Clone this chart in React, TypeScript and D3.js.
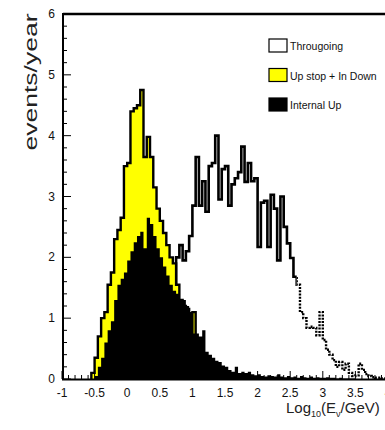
import React from 'react';
import * as d3 from 'd3';

// histogram bins: width 0.05 in log10(E/GeV), values in events/year
const binWidth = 0.05;

// through-going muons (open histogram)
const thruStart = 0.75;
const thruValues = [
    2.0, 2.2, 1.95, 2.1, 2.35, 2.85, 3.65, 2.85, 3.25, 2.75,
    3.5, 3.55, 4.0, 2.95, 3.45, 3.5, 2.85, 3.2, 3.3, 3.4,
    3.82, 3.24, 3.55, 3.25, 3.3, 2.17, 2.9, 2.93, 2.17, 3.03,
    2.8, 1.95, 3.0, 2.5, 2.23, 1.99, 1.68, 1.55, 1.1, 1.0,
    0.84, 0.86, 0.84, 0.72, 1.1, 0.64, 0.48, 0.4, 0.31, 0.2,
    0.28, 0.15, 0.25, 0.1, 0.05, 0.06, 0.25, 0.15, 0.08, 0.05,
    0.03, 0.02, 0.02, 0.01
];
// where the tail of the through-going histogram turns dotted
const thruDottedFrom = 2.6;

// up stop + in down (yellow)
const stopStart = -0.55;
const stopValues = [
    0.1, 0.35, 0.7, 1.0, 1.1, 1.55, 1.75, 2.3, 2.45, 2.65,
    3.5, 3.55, 4.4, 4.45, 4.5, 4.75, 3.65, 3.98, 3.65, 3.15,
    2.8, 2.6, 2.4, 2.2, 2.0, 1.9, 1.55, 1.3, 1.2, 1.15,
    0.75, 1.1, 0.35, 0.1
];

// internal up (black)
const inStart = -0.5;
const inValues = [
    0.05, 0.2, 0.35, 0.6, 0.8, 0.95, 1.3, 1.55, 1.65, 1.75,
    1.95, 2.1, 2.25, 2.35, 2.42, 2.15, 2.65, 2.55, 2.35, 2.15,
    2.0, 1.85, 1.7, 1.55, 1.45, 1.4, 1.3, 1.3, 1.2, 1.1,
    0.75, 0.75, 0.7, 0.8, 0.45, 0.4, 0.35, 0.3, 0.28, 0.22,
    0.2, 0.15, 0.12, 0.2, 0.1, 0.12, 0.1, 0.12, 0.08, 0.06,
    0.08, 0.05, 0.04, 0.06, 0.05, 0.04, 0.08, 0.04, 0.03, 0.05,
    0.03, 0.04, 0.02, 0.05, 0.03, 0.02, 0.04, 0.02, 0.03, 0.02,
    0.02, 0.03, 0.02, 0.02, 0.01, 0.02, 0.01, 0.01, 0.01, 0.01
];

const xTicks = [-1, -0.5, 0, 0.5, 1, 1.5, 2, 2.5, 3, 3.5, 4];
const yTicks = [0, 1, 2, 3, 4, 5, 6];
const legendItems = [
    {label: 'Througoing', fill: '#ffffff'},
    {label: 'Up stop + In Down', fill: '#ffff00'},
    {label: 'Internal Up', fill: '#000000'}
];

const width = 385, height = 430;

const x = d3.scaleLinear().domain([-1, 4]).range([62, 388]);
const y = d3.scaleLinear().domain([0, 6]).range([379, 14]);

// turn a list of bin contents into step points closed to zero at both ends
function stepPoints(start, values) {
    const pts = [[start, 0]];
    values.forEach((v, i) => pts.push([start + i * binWidth, v]));
    const end = start + values.length * binWidth;
    pts.push([end, values[values.length - 1]]);
    pts.push([end, 0]);
    return pts;
}

const stepLine = d3.line()
    .x(d => x(d[0]))
    .y(d => y(d[1]))
    .curve(d3.curveStepAfter);

const stepArea = d3.area()
    .x(d => x(d[0]))
    .y0(y(0))
    .y1(d => y(d[1]))
    .curve(d3.curveStepAfter);

const App = () => {
    const thruPath = stepLine(stepPoints(thruStart, thruValues));
    const stopPts = stepPoints(stopStart, stopValues);
    const inPts = stepPoints(inStart, inValues);

    const minorX = d3.range(-1, 4.001, 0.1);
    const minorY = d3.range(0, 6.001, 0.2);
    const cut = x(thruDottedFrom);

    return (
        <svg width={width} height={height} style={{position: 'absolute', left: 0, top: 0, background: '#fff'}}
             fontFamily="'Liberation Sans', Arial, sans-serif">
            <defs>
                <clipPath id="solidPart"><rect x={0} y={0} width={cut} height={height}/></clipPath>
                <clipPath id="dotPart"><rect x={cut} y={0} width={width - cut} height={height}/></clipPath>
            </defs>

            {/* through-going outline, solid then dotted in the tail */}
            <path d={thruPath} fill="none" stroke="#000" strokeWidth={2.6} clipPath="url(#solidPart)"/>
            <path d={thruPath} fill="none" stroke="#000" strokeWidth={2.4} strokeDasharray="2,1.3"
                  clipPath="url(#dotPart)"/>

            {/* up stop + in down */}
            <path d={stepArea(stopPts)} fill="#ffff00"/>
            <path d={stepLine(stopPts)} fill="none" stroke="#000" strokeWidth={2.4}/>

            {/* internal up */}
            <path d={stepArea(inPts)} fill="#000"/>

            {/* frame */}
            <line x1={63} x2={388} y1={14} y2={14} stroke="#000" strokeWidth={2.5}/>
            <line x1={63} x2={63} y1={13} y2={380} stroke="#000" strokeWidth={2}/>
            <line x1={62} x2={388} y1={379.5} y2={379.5} stroke="#000" strokeWidth={2}/>

            {/* ticks, pointing inward */}
            {minorX.map((t, i) => {
                const major = Math.abs(t * 2 - Math.round(t * 2)) < 1e-6;
                return <line key={'xt' + i} x1={x(t)} x2={x(t)} y1={379} y2={379 - (major ? 8 : 4)}
                             stroke="#000" strokeWidth={1}/>;
            })}
            {minorY.map((t, i) => {
                const major = Math.abs(t - Math.round(t)) < 1e-6;
                return <line key={'yt' + i} x1={63} x2={63 + (major ? 8 : 4)} y1={y(t)} y2={y(t)}
                             stroke="#000" strokeWidth={1}/>;
            })}

            {xTicks.map(t => (
                <text key={'xl' + t} x={x(t)} y={397} fontSize={12} textAnchor="middle" fill="#111">
                    {t < 0 ? '-' + Math.abs(t) : t}
                </text>
            ))}
            {yTicks.map(t => (
                <text key={'yl' + t} x={55} y={y(t) + 4} fontSize={12} textAnchor="end" fill="#111">{t}</text>
            ))}

            {/* axis titles */}
            <text transform="translate(37, 82) rotate(-90)" fontSize={19} textAnchor="middle"
                  textLength={137} lengthAdjust="spacingAndGlyphs" fill="#222">events/year</text>
            <text x={286} y={413} fontSize={15} fill="#222">
                Log<tspan fontSize={9} dy={4}>10</tspan><tspan dy={-4}>(E</tspan>
                <tspan fontSize={9} dy={4}>ν</tspan><tspan dy={-4}>/GeV)</tspan>
            </text>

            {/* legend */}
            {legendItems.map((d, i) => (
                <g key={d.label} transform={`translate(269, ${39 + i * 29.5})`}>
                    <rect x={0} y={0} width={18} height={13} fill={d.fill} stroke="#000" strokeWidth={1.2}/>
                    <text x={21} y={11} fontSize={10.5} fontFamily="'Liberation Sans Narrow', 'Arial Narrow', sans-serif"
                          fill="#111">{d.label}</text>
                </g>
            ))}
        </svg>
    );
};

export default App;
